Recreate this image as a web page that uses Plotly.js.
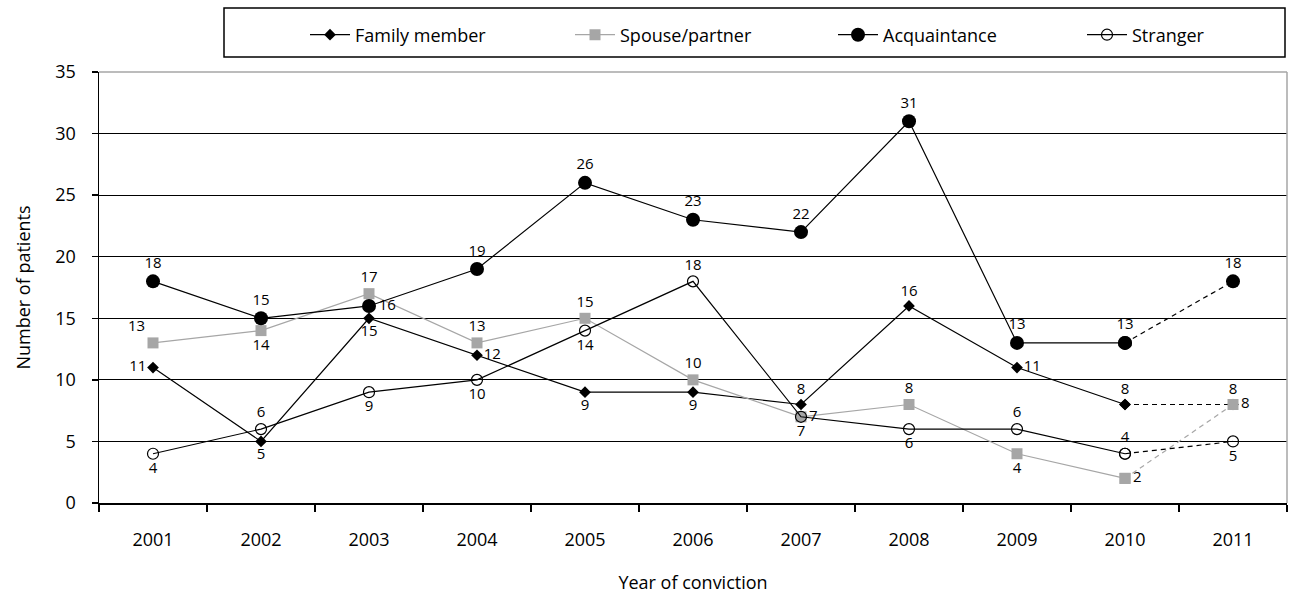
<!DOCTYPE html>
<html>
<head>
<meta charset="utf-8">
<script src="https://cdn.plot.ly/plotly-3.0.1.min.js"></script>
<style>
  body { margin: 0; background: #fff; }
  #grafica { width: 1292px; height: 594px; }
</style>
</head>
<body>
<div id="grafica"></div>
<script>
const ANIOS = ['2001', '2002', '2003', '2004', '2005', '2006', '2007', '2008', '2009', '2010', '2011'];
const FAMILIA = [11, 5, 15, 12, 9, 9, 8, 16, 11, 8, 8];
const PAREJA = [13, 14, 17, 13, 15, 10, 7, 8, 4, 2, 8];
const CONOCIDO = [18, 15, 16, 19, 26, 23, 22, 31, 13, 13, 18];
const DESCONOCIDO = [4, 6, 9, 10, 14, 18, 7, 6, 6, 4, 5];
const NOMBRES = ['Family member', 'Spouse/partner', 'Acquaintance', 'Stranger'];

const FUENTE = 'Open Sans, DejaVu Sans, sans-serif';
const GRIS = '#a6a6a6';
const MARGEN = {l: 99, r: 5, t: 72, b: 91};
const ANCHO = 1292, ALTO = 594;

// pixel -> paper helpers (for legend placement)
const px2x = p => (p - MARGEN.l) / (ANCHO - MARGEN.l - MARGEN.r);
const px2y = p => (ALTO - MARGEN.b - p) / (ALTO - MARGEN.t - MARGEN.b);

// where each value label sits, per point
const POS_FAMILIA = ['middle left', 'bottom center', 'bottom center', 'middle right', 'bottom center', 'bottom center',
    'top center', 'top center', 'middle right', 'top center', 'top center'];
const POS_PAREJA = ['top left', 'bottom center', 'top center', 'top center', 'top center', 'top center',
    'middle right', 'top center', 'bottom center', 'middle right', 'middle right'];
const POS_CONOCIDO = ['top center', 'top center', 'middle right', 'top center', 'top center', 'top center',
    'top center', 'top center', 'top center', 'top center', 'top center'];
const POS_DESCONOCIDO = ['bottom center', 'top center', 'bottom center', 'bottom center', 'bottom center', 'top center',
    'bottom center', 'bottom center', 'top center', 'top center', 'bottom center'];

// last year (2011) is joined with a dashed segment
function serie(nombre, valores, posiciones, colorLinea, marcador, leyenda){
    let n = valores.length;
    let solida = {
        type: 'scatter', mode: 'lines+markers+text', name: nombre, legend: leyenda,
        x: ANIOS.slice(0, n - 1), y: valores.slice(0, n - 1),
        text: valores.slice(0, n - 1).map(String), textposition: posiciones.slice(0, n - 1),
        textfont: {family: FUENTE, size: 15, color: '#000'},
        line: {color: colorLinea, width: 1.2}, marker: marcador, cliponaxis: false,
        hoverinfo: 'skip'
    };
    let punteada = {
        type: 'scatter', mode: 'lines+markers+text', name: nombre, showlegend: false,
        x: ANIOS.slice(n - 2), y: valores.slice(n - 2),
        text: ['', String(valores[n - 1])], textposition: posiciones.slice(n - 2),
        textfont: {family: FUENTE, size: 15, color: '#000'},
        line: {color: colorLinea, width: 1.2, dash: '5px,4px'}, marker: marcador, cliponaxis: false,
        hoverinfo: 'skip'
    };
    return [solida, punteada];
}

const datos = [].concat(
    serie(NOMBRES[0], FAMILIA, POS_FAMILIA, '#000', {symbol: 'diamond', size: 9, color: '#000'}, 'legend'),
    serie(NOMBRES[1], PAREJA, POS_PAREJA, GRIS, {symbol: 'square', size: 11, color: GRIS}, 'legend2'),
    serie(NOMBRES[2], CONOCIDO, POS_CONOCIDO, '#000', {symbol: 'circle', size: 14, color: '#000'}, 'legend3'),
    serie(NOMBRES[3], DESCONOCIDO, POS_DESCONOCIDO, '#000',
        {symbol: 'circle-open', size: 11, color: '#000', line: {width: 1.2, color: '#000'}}, 'legend4')
);

function leyenda(inicioLinea){
    return {
        orientation: 'h', x: px2x(inicioLinea), xanchor: 'left', y: px2y(35), yanchor: 'middle',
        font: {family: FUENTE, size: 18, color: '#000'},
        bgcolor: 'rgba(0,0,0,0)', borderwidth: 0, itemwidth: 40
    };
}

const diseno = {
    width: ANCHO, height: ALTO,
    margin: MARGEN,
    paper_bgcolor: '#fff', plot_bgcolor: '#fff',
    font: {family: FUENTE, size: 18, color: '#000'},
    showlegend: true,
    legend: leyenda(305),
    legend2: leyenda(570),
    legend3: leyenda(833),
    legend4: leyenda(1082),
    xaxis: {
        type: 'category', tickson: 'boundaries', range: [-0.5, ANIOS.length - 0.5],
        showline: true, linecolor: '#000', linewidth: 1.5,
        ticks: 'outside', ticklen: 7, tickcolor: '#000', tickwidth: 1.5,
        showgrid: false, zeroline: false, ticklabelstandoff: 20,
        tickfont: {family: FUENTE, size: 18},
        title: {text: 'Year of conviction', standoff: 26, font: {family: FUENTE, size: 18}}
    },
    yaxis: {
        range: [0, 35], dtick: 5,
        showline: true, linecolor: '#000', linewidth: 1.5,
        ticks: 'outside', ticklen: 6, tickcolor: '#000', tickwidth: 1.5,
        showgrid: true, gridcolor: '#000', gridwidth: 1.2, zeroline: false,
        ticklabelstandoff: 12,
        tickfont: {family: FUENTE, size: 18},
        title: {text: 'Number of patients', standoff: 20, font: {family: FUENTE, size: 18}}
    },
    shapes: [
        {type: 'line', xref: 'paper', yref: 'paper', x0: 0, x1: 1, y0: 1, y1: 1,
            line: {color: GRIS, width: 1.5}, layer: 'above'},
        {type: 'line', xref: 'paper', yref: 'paper', x0: 1, x1: 1, y0: 0, y1: 1,
            line: {color: GRIS, width: 1.5}, layer: 'above'},
        {type: 'rect', xref: 'paper', yref: 'paper', x0: px2x(224), x1: px2x(1285), y0: px2y(57), y1: px2y(8),
            line: {color: '#000', width: 1.5}, fillcolor: 'rgba(0,0,0,0)'}
    ]
};

Plotly.newPlot(document.getElementById('grafica'), datos, diseno, {displayModeBar: false, staticPlot: true});
</script>
</body>
</html>
